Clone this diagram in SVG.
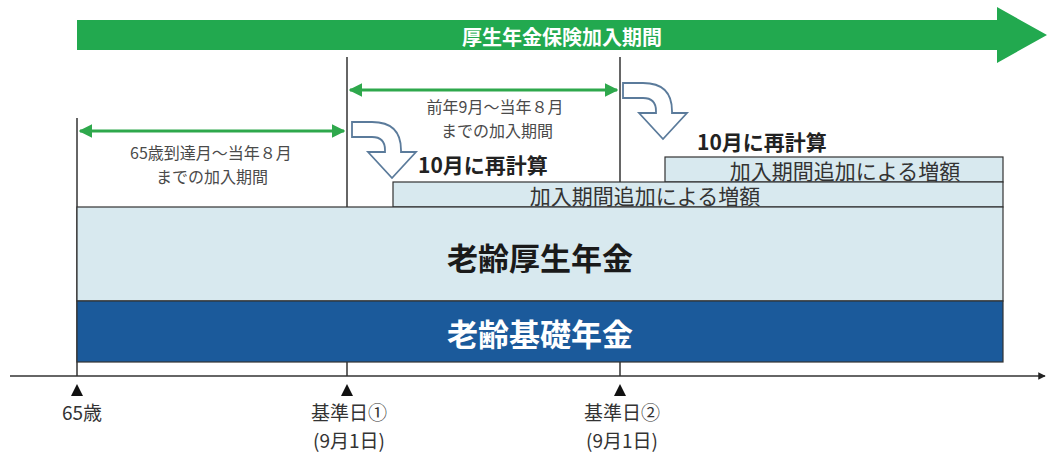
<svg xmlns="http://www.w3.org/2000/svg" width="1049" height="457" viewBox="0 0 1049 457">
<style>
.jp{font-family:"Noto Sans CJK JP","Noto Sans",sans-serif;}
.lbl{font-size:16px;fill:#4a4a4a;text-anchor:middle;}
.inc{font-size:21px;fill:#333;text-anchor:middle;}
.recalc{font-size:21px;font-weight:bold;fill:#222;}
.vline{stroke:#333;stroke-width:1.5;fill:none;}
.box{stroke:#333;stroke-width:1.2;}
.axlbl{font-size:19px;fill:#333;text-anchor:middle;}
.garr{stroke:#2ea84c;stroke-width:3;fill:none;}
</style>
<defs>
<marker id="gh" viewBox="0 0 10 10" refX="9" refY="5" markerWidth="4.5" markerHeight="4.5" orient="auto-start-reverse">
<path d="M0,0 L10,5 L0,10 Z" fill="#2ea84c"/>
</marker>
<marker id="ax" viewBox="0 0 10 10" refX="9" refY="5" markerWidth="5" markerHeight="5" orient="auto">
<path d="M0,0 L10,5 L0,10 Z" fill="#222"/>
</marker>
<path id="curv" d="M352,122 L372,122 Q401,122 401,150 L401,152 L416,152 L392,178 L368,152 L385,152 L385,150 Q385,137 372,137 L352,137 Z" fill="#fff" stroke="#5b7b9b" stroke-width="1.8" stroke-linejoin="miter"/>
</defs>

<g id="period-bar">
<path d="M77,20 L997,20 L997,7 L1047,35 L997,63 L997,50 L77,50 Z" fill="#22a94f"/>
<text class="jp" x="562" y="36" font-size="20" font-weight="bold" fill="#fff" text-anchor="middle" dominant-baseline="central">厚生年金保険加入期間</text>
</g>

<g id="gridlines">
<line class="vline" x1="77" y1="118" x2="77" y2="376"/>
<line class="vline" x1="347" y1="57" x2="347" y2="376"/>
<line class="vline" x1="620" y1="57" x2="620" y2="376"/>
</g>

<g id="connectors">
<line class="garr" x1="80" y1="131" x2="344" y2="131" marker-start="url(#gh)" marker-end="url(#gh)"/>
<line class="garr" x1="350" y1="90" x2="617" y2="90" marker-start="url(#gh)" marker-end="url(#gh)"/>
<use href="#curv"/>
<use href="#curv" transform="translate(271,-39)"/>
</g>

<g id="period1-label">
<text class="jp lbl" x="211" y="159">65歳到達月～当年８月</text>
<text class="jp lbl" x="212" y="183">までの加入期間</text>
</g>
<g id="period2-label">
<text class="jp lbl" x="495" y="113">前年9月～当年８月</text>
<text class="jp lbl" x="497" y="137">までの加入期間</text>
</g>

<g id="recalc1">
<text class="jp recalc" x="418" y="173">10月に再計算</text>
</g>
<g id="recalc2">
<text class="jp recalc" x="697" y="150">10月に再計算</text>
</g>

<g id="increase2">
<rect class="box" x="665" y="157" width="338" height="25" fill="#d8e9ef"/>
<text class="jp inc" x="845" y="170" dominant-baseline="central">加入期間追加による増額</text>
</g>
<g id="increase1">
<rect class="box" x="393" y="182" width="610" height="25" fill="#d8e9ef"/>
<text class="jp inc" x="645" y="195" dominant-baseline="central">加入期間追加による増額</text>
</g>

<g id="kosei">
<rect class="box" x="77" y="207" width="926" height="94" fill="#d8e9ef"/>
<text class="jp" x="540" y="256" font-size="31" font-weight="bold" fill="#1a1a1a" text-anchor="middle" dominant-baseline="central">老齢厚生年金</text>
</g>
<g id="kiso">
<rect class="box" x="77" y="301" width="926" height="61" fill="#1b5a9b"/>
<text class="jp" x="540" y="332" font-size="31" font-weight="bold" fill="#fff" text-anchor="middle" dominant-baseline="central">老齢基礎年金</text>
</g>

<g id="axis">
<line x1="10" y1="376" x2="1045" y2="376" stroke="#333" stroke-width="1.5" marker-end="url(#ax)"/>
</g>

<g id="mark-65">
<polygon points="71,396 83,396 77,384" fill="#111"/>
<text class="jp axlbl" x="82" y="420" font-size="20">65歳</text>
</g>
<g id="mark-kijun1">
<polygon points="341,396 353,396 347,384" fill="#111"/>
<text class="jp axlbl" x="349" y="420">基準日①</text>
<text class="jp axlbl" x="349" y="448">(9月1日)</text>
</g>
<g id="mark-kijun2">
<polygon points="614,396 626,396 620,384" fill="#111"/>
<text class="jp axlbl" x="622" y="420">基準日②</text>
<text class="jp axlbl" x="622" y="448">(9月1日)</text>
</g>
</svg>
